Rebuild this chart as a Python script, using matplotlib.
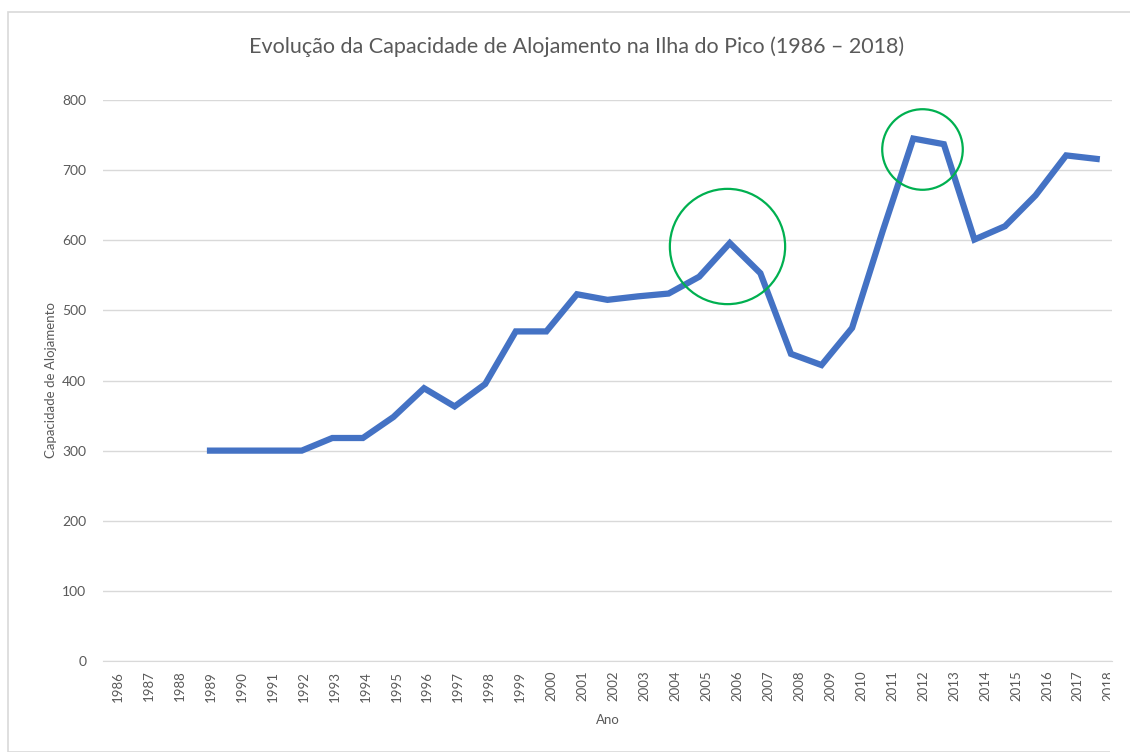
import matplotlib
matplotlib.use("Agg")
import matplotlib.pyplot as plt
from matplotlib.patches import Rectangle

# data
years = list(range(1986, 2019))
capacity = [None, None, None, 300, 300, 300, 300, 318, 318, 348,
            389, 363, 395, 470, 470, 523, 515, 520, 524, 548,
            596, 553, 438, 422, 475, 613, 745, 737, 601, 620,
            664, 721, 716]

# highlighted spots (centre year, centre value, diameter in points)
highlight_x = [2005.9, 2012.3]
highlight_y = [592, 730]
highlight_size = [83, 58]

TEXT = "#595959"
GRID = "#d9d9d9"

plt.rcParams['font.family'] = ['Lato', 'DejaVu Sans']

fig = plt.figure(figsize=(11.3, 7.52), dpi=100)
ax = fig.add_axes([103 / 1130, 1 - 661 / 752, 1009 / 1130, 561 / 752])

idx = [i for i, v in enumerate(capacity) if v is not None]
ax.plot([years[i] for i in idx], [capacity[i] for i in idx],
        color="#4472C4", lw=4.5, solid_joinstyle="miter", zorder=3)

for hx, hy, hs in zip(highlight_x, highlight_y, highlight_size):
    ax.plot([hx], [hy], marker="o", markersize=hs, markerfacecolor="none",
            markeredgecolor="#00B050", markeredgewidth=1.6, zorder=4)

ax.set_xlim(years[0] - 0.5, years[-1] + 0.5)
ax.set_ylim(0, 800)
ax.set_yticks(range(0, 801, 100))
ax.set_xticks([])
ax.tick_params(axis="y", length=0, labelsize=10, labelcolor=TEXT, pad=12)
ax.grid(axis="y", color=GRID, lw=1)
ax.set_axisbelow(True)
for s in ["left", "right", "top"]:
    ax.spines[s].set_visible(False)
ax.spines["bottom"].set_color(GRID)
ax.set_ylabel("Capacidade de Alojamento", fontsize=9.5, color=TEXT, labelpad=4)

# year labels sit on a slightly wider spacing than the line in the original
lab_ax = ax.twiny()
lab_ax.xaxis.set_ticks_position("bottom")
lab_ax.xaxis.set_label_position("bottom")
for s in lab_ax.spines.values():
    s.set_visible(False)
lab_ax.set_xlim(1985.53, 2018.1)
lab_ax.set_xticks(years)
lab_ax.set_xticklabels([str(y) for y in years], rotation=90, fontsize=9.5,
                       color=TEXT, va="top")
lab_ax.tick_params(axis="x", length=0, pad=7)
lab_ax.set_xlabel("Ano", fontsize=9.5, color=TEXT, labelpad=9)

fig.text(577 / 1130, 1 - 47 / 752,
         "Evolução da Capacidade de Alojamento na Ilha do Pico (1986 – 2018)",
         ha="center", va="center", fontsize=15.5, color=TEXT)

fig.patches.append(Rectangle((8 / 1130, 0), 1.2, 1 - 12 / 752,
                             transform=fig.transFigure, fill=False,
                             edgecolor=GRID, lw=1.2))

# the last year label is cut off by the chart area in the original
fig.patches.append(Rectangle((1110 / 1130, 0), 1, (752 - 664) / 752,
                             transform=fig.transFigure, facecolor="white",
                             edgecolor="none", zorder=10))

fig.savefig("out.png", dpi=100)
